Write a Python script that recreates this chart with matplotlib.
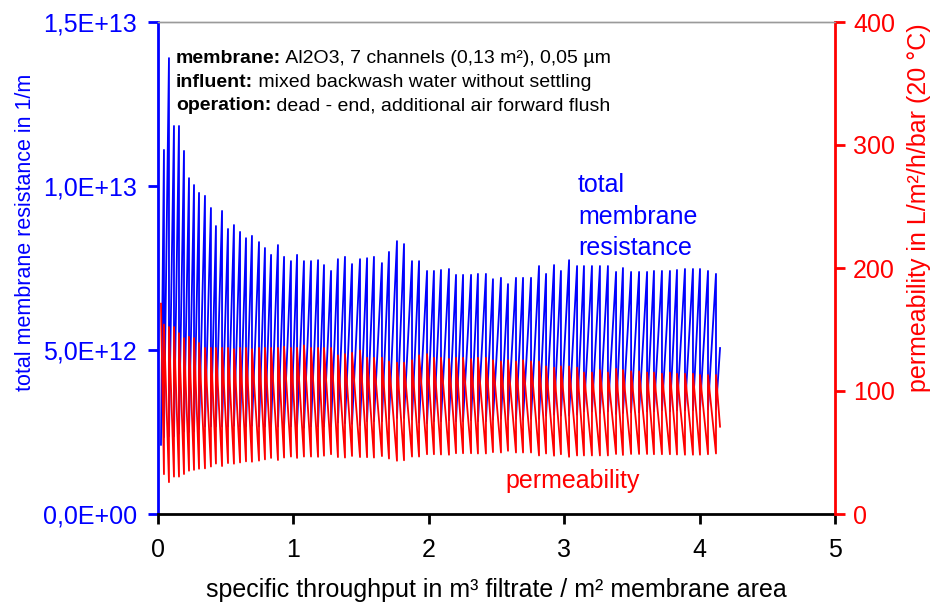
import matplotlib
matplotlib.use("Agg")
import matplotlib.pyplot as plt
from matplotlib.ticker import FuncFormatter

plt.rcParams['font.family'] = ['Liberation Sans', 'DejaVu Sans']

# ---- data ----
# throughput at the end of each filtration cycle (m3/m2)
cycle_end_x = [0.044, 0.081, 0.118, 0.155, 0.192, 0.229, 0.266, 0.303, 0.347, 0.391,
               0.428, 0.473, 0.517, 0.561, 0.606, 0.650, 0.694, 0.746, 0.790, 0.835,
               0.886, 0.931, 0.982, 1.027, 1.078, 1.130, 1.182, 1.226, 1.278, 1.329,
               1.381, 1.433, 1.492, 1.544, 1.595, 1.654, 1.706, 1.765, 1.817, 1.876,
               1.928, 1.987, 2.038, 2.090, 2.149, 2.201, 2.253, 2.312, 2.363, 2.422,
               2.474, 2.533, 2.585, 2.644, 2.696, 2.755, 2.814, 2.866, 2.925, 2.976,
               3.036, 3.095, 3.146, 3.205, 3.264, 3.323, 3.383, 3.434, 3.494, 3.553,
               3.612, 3.663, 3.722, 3.781, 3.833, 3.892, 3.951, 4.003, 4.062, 4.121]
start_x = 0.022
end_x = 4.151

# total membrane resistance at end of each cycle (1E12 1/m)
res_peak = [11.10, 13.90, 11.83, 11.83, 11.07, 10.24, 10.03, 9.79, 9.70, 9.33,
            8.78, 9.24, 8.69, 8.81, 8.60, 8.41, 8.48, 8.29, 8.11, 7.90,
            8.20, 7.84, 7.71, 7.90, 7.71, 7.71, 7.74, 7.59, 7.41, 7.77,
            7.84, 7.62, 7.77, 7.80, 7.84, 7.65, 7.99, 8.32, 8.23, 7.71,
            7.71, 7.41, 7.41, 7.44, 7.47, 7.29, 7.29, 7.29, 7.32, 7.32,
            7.16, 7.20, 7.01, 7.20, 7.20, 7.20, 7.56, 7.32, 7.59, 7.41,
            7.74, 7.56, 7.56, 7.56, 7.56, 7.56, 7.38, 7.50, 7.38, 7.38,
            7.38, 7.41, 7.41, 7.41, 7.44, 7.47, 7.47, 7.47, 7.41, 7.32]
res_end = 5.06
# resistance at start of each cycle (after backwash), 1E12 1/m
res_start = [2.11, 2.34, 2.37, 2.37, 2.45, 2.52, 2.50, 2.52, 2.59, 2.67,
             2.67, 2.67, 2.67, 2.67, 2.69, 2.67, 2.67, 2.69, 2.67, 2.67,
             2.67, 2.67, 2.65, 2.67, 2.67, 2.63, 2.67, 2.67, 2.67, 2.67,
             2.79, 2.77, 2.75, 2.71, 2.83, 2.83, 2.83, 2.90, 2.93, 2.93,
             2.88, 2.79, 2.77, 2.83, 2.83, 2.86, 2.83, 2.83, 2.86, 2.83,
             2.83, 2.88, 2.90, 2.88, 2.90, 2.88, 2.90, 2.90, 3.00, 3.03,
             3.00, 3.00, 3.03, 3.13, 3.13, 3.08, 3.13, 3.05, 3.08, 3.10,
             3.10, 3.13, 3.13, 3.16, 3.13, 3.16, 3.16, 3.16, 3.19, 3.19]

# permeability at start of each cycle (L/m2/h/bar)
perm_start = [171, 154, 152, 152, 147, 143, 144, 143, 139, 135,
              135, 135, 135, 135, 134, 135, 135, 134, 135, 135,
              135, 135, 136, 135, 135, 137, 135, 135, 135, 135,
              129, 130, 131, 133, 127, 127, 127, 124, 123, 123,
              125, 129, 130, 127, 127, 126, 127, 127, 126, 127,
              127, 125, 124, 125, 124, 125, 124, 124, 120, 119,
              120, 120, 119, 115, 115, 117, 115, 118, 117, 116,
              116, 115, 115, 114, 115, 114, 114, 114, 113, 113]
# permeability at end of each cycle
perm_low = [32.4, 25.9, 30.4, 30.4, 32.5, 35.2, 35.9, 36.8, 37.1, 38.6,
            41.0, 39.0, 41.4, 40.9, 41.9, 42.8, 42.5, 43.4, 44.4, 45.6,
            43.9, 45.9, 46.7, 45.6, 46.7, 46.7, 46.5, 47.4, 48.6, 46.3,
            45.9, 47.2, 46.3, 46.2, 45.9, 47.1, 45.1, 43.3, 43.7, 46.7,
            46.7, 48.6, 48.6, 48.4, 48.2, 49.4, 49.4, 49.4, 49.2, 49.2,
            50.3, 50.0, 51.4, 50.0, 50.0, 50.0, 47.6, 49.2, 47.4, 48.6,
            46.5, 47.6, 47.6, 47.6, 47.6, 47.6, 48.8, 48.0, 48.8, 48.8,
            48.8, 48.6, 48.6, 48.6, 48.4, 48.2, 48.2, 48.2, 48.6, 49.2]
perm_end = 71

x_ticks = [0, 1, 2, 3, 4, 5]
res_ticks = [0, 5e12, 1e13, 1.5e13]
perm_ticks = [0, 100, 200, 300, 400]

# ---- build cycle polylines (vertices only) ----
starts = [start_x] + cycle_end_x
rx, ry, px, py = [], [], [], []
for i, xe in enumerate(cycle_end_x):
    rx += [starts[i], xe]
    ry += [res_start[i] * 1e12, res_peak[i] * 1e12]
    px += [starts[i], xe]
    py += [perm_start[i], perm_low[i]]
rx += [cycle_end_x[-1], end_x]
ry += [res_start[-1] * 1e12, res_end * 1e12]
px += [cycle_end_x[-1], end_x]
py += [perm_start[-1], perm_end]

BLUE = '#0000FF'
RED = '#FF0000'
W, H = 934, 603

fig = plt.figure(figsize=(W / 100, H / 100), dpi=100)
ax = fig.add_axes([158 / W, 1 - 514 / H, (835 - 158) / W, (514 - 22) / H])
ax2 = ax.twinx()

ax.plot(rx, ry, color=BLUE, lw=1.3)
ax2.plot(px, py, color=RED, lw=1.3)

ax.set_xlim(0, 5)
ax.set_ylim(0, 1.5e13)
ax2.set_ylim(0, 400)
ax.set_xticks(x_ticks)
ax.set_yticks(res_ticks)
ax2.set_yticks(perm_ticks)

ax.yaxis.set_major_formatter(FuncFormatter(lambda v, p: f"{v:.1E}".replace('.', ',')))

ax.spines['left'].set_color(BLUE)
ax.spines['left'].set_linewidth(2.0)
ax.spines['bottom'].set_color('black')
ax.spines['bottom'].set_linewidth(2.0)
ax.spines['top'].set_color('#9a9a9a')
ax.spines['top'].set_linewidth(1.0)
ax2.spines['top'].set_color('#9a9a9a')
ax2.spines['top'].set_linewidth(1.0)
ax2.spines['right'].set_color(RED)
ax2.spines['right'].set_linewidth(2.0)
ax2.spines['left'].set_visible(False)
ax2.spines['bottom'].set_visible(False)
ax.spines['right'].set_visible(False)

ax.tick_params(axis='y', colors=BLUE, labelsize=18, direction='out', length=7, width=2, pad=8)
ax.tick_params(axis='x', colors='black', labelsize=18, direction='out', length=7, width=2, pad=10.5)
ax2.tick_params(axis='y', colors=RED, labelsize=18, direction='out', length=7, width=2, pad=6)

ax.set_ylabel("total membrane resistance in 1/m", color=BLUE, fontsize=15.5)
ax.yaxis.set_label_coords(-0.180, 0.573)
ax2.set_ylabel("permeability in L/m²/h/bar (20 °C)", color=RED, fontsize=18)
ax2.yaxis.set_label_coords(1.106, 0.622)
ax.set_xlabel("specific throughput in m³ filtrate / m² membrane area", fontsize=18)
ax.xaxis.set_label_coords(0.5, -(578 - 514) / 492)

# annotation block
lines = [("membrane:", " Al2O3, 7 channels (0,13 m²), 0,05 µm"),
         ("influent:", " mixed backwash water without settling"),
         ("operation:", " dead - end, additional air forward flush")]
for k, (b, n) in enumerate(lines):
    yb = 67 + k * 23.7
    t = fig.text(176 / W, 1 - yb / H, b, fontsize=14, fontweight='bold', va='bottom')
    ax.annotate(n, xy=(1, 0), xycoords=t, fontsize=14, va='bottom', ha='left')

fig.text(578 / W, 1 - 260 / H, "total\nmembrane\nresistance", color=BLUE,
         fontsize=18, va='bottom', ha='left', linespacing=1.39)
fig.text(505 / W, 1 - 493 / H, "permeability", color=RED, fontsize=18,
         va='bottom', ha='left')

fig.savefig("out.png", dpi=100)
